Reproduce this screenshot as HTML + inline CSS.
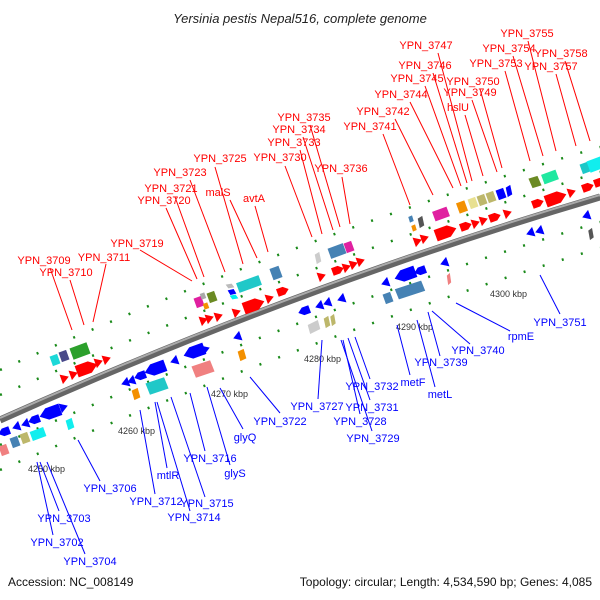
<!DOCTYPE html>
<html><head><meta charset="utf-8"><style>
html,body{margin:0;padding:0;background:#fff}
svg{display:block}
text{font-family:"Liberation Sans",sans-serif}
.r{fill:#f00;font-size:11px}
.b{fill:#00f;font-size:11px}
.k{fill:#333;font-size:9px}
.lr{stroke:#f00;stroke-width:1}
.lb{stroke:#00f;stroke-width:1}
</style></head><body>
<svg width="600" height="600" viewBox="0 0 600 600" xmlns="http://www.w3.org/2000/svg">
<defs>
<linearGradient id="gb" x1="0" y1="0" x2="0" y2="1"><stop offset="0" stop-color="#bbb"/><stop offset="0.5" stop-color="#888"/><stop offset="1" stop-color="#555"/></linearGradient>
<polygon id="ar" points="-6,-4 1,-4 6,0 1,4 -6,4"/>
<polygon id="aR" points="-11,-6 3,-6 11,0 3,6 -11,6"/>
<polygon id="al" points="6,-4 -1,-4 -6,0 -1,4 6,4"/>
<polygon id="aL" points="11,-6 -3,-6 -11,0 -3,6 11,6"/>
<polygon id="tr" points="-4,-5 4,0 -4,5"/>
<polygon id="tl" points="4,-5 -4,0 4,5"/>
<rect id="bs" x="-4" y="-5" width="8" height="10"/>
<rect id="bm" x="-9" y="-6" width="18" height="12"/>
<rect id="bw" x="-14" y="-6" width="28" height="12"/>
</defs>
<text x="300" y="23" text-anchor="middle" font-size="13" font-style="italic" fill="#222">Yersinia pestis Nepal516, complete genome</text>

<!-- dotted green tracks -->
<g stroke="#1a8a1a" stroke-width="2.5" fill="none" stroke-dasharray="2 18">
<path d="M0,370 Q300,235 600,147"/>
<path d="M0,395 Q300,265 600,172"/>
<path d="M0,445 Q300,312 600,222"/>
<path d="M0,470 Q300,340 600,248"/>
</g>
<!-- backbone -->
<path d="M0,420 Q300,285.5 600,197" stroke="#666" stroke-width="7" fill="none"/>
<path d="M0,418 Q300,283.5 600,195" stroke="#aaa" stroke-width="2" fill="none"/>

<!-- forward genes -->
<g fill="#f00">
<use href="#tr" transform="translate(65,378) rotate(-20)"/>
<use href="#tr" transform="translate(74,374) rotate(-20)"/>
<use href="#aR" transform="translate(87,368) rotate(-20)"/>
<use href="#tr" transform="translate(99,362) rotate(-20)"/>
<use href="#tr" transform="translate(107,359) rotate(-20)"/>
<use href="#tr" transform="translate(204,320) rotate(-20)"/>
<use href="#tr" transform="translate(210,318) rotate(-20)"/>
<use href="#tr" transform="translate(219,316) rotate(-20)"/>
<use href="#tr" transform="translate(237,312) rotate(-20)"/>
<use href="#aR" transform="translate(254,305) rotate(-20)"/>
<use href="#tr" transform="translate(270,298) rotate(-20)"/>
<use href="#ar" transform="translate(283,291) rotate(-20)"/>
<use href="#tr" transform="translate(322,276) rotate(-20)"/>
<use href="#ar" transform="translate(338,270) rotate(-20)"/>
<use href="#tr" transform="translate(347,267) rotate(-20)"/>
<use href="#tr" transform="translate(354,264) rotate(-20)"/>
<use href="#tr" transform="translate(361,261) rotate(-20)"/>
<use href="#tr" transform="translate(418,241) rotate(-20)"/>
<use href="#tr" transform="translate(425,238) rotate(-20)"/>
<use href="#aR" transform="translate(446,232) rotate(-20)"/>
<use href="#ar" transform="translate(466,226) rotate(-20)"/>
<use href="#tr" transform="translate(476,223) rotate(-20)"/>
<use href="#tr" transform="translate(484,220) rotate(-20)"/>
<use href="#ar" transform="translate(495,217) rotate(-20)"/>
<use href="#tr" transform="translate(508,213) rotate(-20)"/>
<use href="#ar" transform="translate(538,203) rotate(-20)"/>
<use href="#aR" transform="translate(556,198) rotate(-20)"/>
<use href="#tr" transform="translate(572,192) rotate(-20)"/>
<use href="#ar" transform="translate(588,187) rotate(-20)"/>
<use href="#ar" transform="translate(600,182) rotate(-20)"/>
</g>
<!-- forward boxes -->
<use href="#bs" fill="#1cd8d8" transform="translate(55,360) rotate(-20)"/>
<use href="#bs" fill="#4a4a8a" transform="translate(64,356) rotate(-20)"/>
<use href="#bm" fill="#2ca02c" transform="translate(80,351) rotate(-20)"/>
<use href="#bs" fill="#e020a0" transform="translate(199,302) rotate(-20)"/>
<use href="#bs" fill="#f39000" transform="translate(206,306) scale(.6) rotate(-20)"/>
<use href="#bs" fill="#aaa" transform="translate(203,296) scale(.6) rotate(-20)"/>
<use href="#bs" fill="#6b8a23" transform="translate(212,297) rotate(-20)"/>
<use href="#bs" fill="#00f" transform="translate(232,292) scale(.8,.5) rotate(-20)"/>
<use href="#bs" fill="#0ee" transform="translate(234,297) scale(.8,.4) rotate(-20)"/>
<use href="#bs" fill="#bbb" transform="translate(230,286) scale(.8,.4) rotate(-20)"/>
<use href="#bw" fill="#20c8c8" transform="translate(249,284) scale(.85) rotate(-20)"/>
<use href="#bs" fill="#4682b4" transform="translate(276,273) scale(1.2) rotate(-20)"/>
<use href="#bs" fill="#ccc" transform="translate(318,258) scale(.6,1) rotate(-20)"/>
<use href="#bm" fill="#4682b4" transform="translate(337,251) scale(.9) rotate(-20)"/>
<use href="#bs" fill="#e020a0" transform="translate(349,247) rotate(-20)"/>
<use href="#bs" fill="#4682b4" transform="translate(411,219) scale(.5,.6) rotate(-20)"/>
<use href="#bs" fill="#f39000" transform="translate(414,228) scale(.5,.6) rotate(-20)"/>
<use href="#bs" fill="#555" transform="translate(421,222) scale(.6,1) rotate(-20)"/>
<use href="#bm" fill="#e020a0" transform="translate(441,214) scale(.85) rotate(-20)"/>
<use href="#bs" fill="#f39000" transform="translate(462,207) scale(1.1) rotate(-20)"/>
<use href="#bs" fill="#e8e090" transform="translate(473,203) rotate(-20)"/>
<use href="#bs" fill="#bdb76b" transform="translate(482,200) rotate(-20)"/>
<use href="#bs" fill="#bdb76b" transform="translate(491,197) rotate(-20)"/>
<use href="#bs" fill="#00f" transform="translate(501,194) rotate(-20)"/>
<use href="#bs" fill="#00f" transform="translate(509,191) scale(.6,1) rotate(-20)"/>
<use href="#bs" fill="#6b8a23" transform="translate(535,182) scale(1.2,1) rotate(-20)"/>
<use href="#bm" fill="#20e8a0" transform="translate(550,177) scale(.85) rotate(-20)"/>
<use href="#bs" fill="#1cc8c8" transform="translate(585,168) rotate(-20)"/>
<use href="#bm" fill="#1ee" transform="translate(597,164) rotate(-20)"/>

<!-- reverse genes -->
<g fill="#00f">
<use href="#al" transform="translate(4,432) rotate(-20)"/>
<use href="#tl" transform="translate(16,427) rotate(-20)"/>
<use href="#tl" transform="translate(25,424) rotate(-20)"/>
<use href="#al" transform="translate(34,420) rotate(-20)"/>
<use href="#aL" transform="translate(50,413) rotate(-20)"/>
<use href="#tr" transform="translate(64,407) rotate(-20)"/>
<use href="#tl" transform="translate(125,383) rotate(-20)"/>
<use href="#tl" transform="translate(131,381) rotate(-20)"/>
<use href="#al" transform="translate(140,376) rotate(-20)"/>
<use href="#aL" transform="translate(155,369) rotate(-20)"/>
<use href="#tl" transform="translate(174,361) rotate(-20)"/>
<use href="#aL" transform="translate(194,352) rotate(-20)"/>
<use href="#tr" transform="translate(206,349) rotate(-20)"/>
<use href="#tl" transform="translate(237,337) rotate(-20)"/>
<use href="#al" transform="translate(304,311) rotate(-20)"/>
<use href="#tl" transform="translate(319,306) rotate(-20)"/>
<use href="#tl" transform="translate(327,303) rotate(-20)"/>
<use href="#tl" transform="translate(341,299) rotate(-20)"/>
<use href="#tl" transform="translate(385,283) rotate(-20)"/>
<use href="#aL" transform="translate(405,275) rotate(-20)"/>
<use href="#al" transform="translate(420,271) rotate(-20)"/>
<use href="#tl" transform="translate(444,263) rotate(-20)"/>
<use href="#tl" transform="translate(530,233) rotate(-20)"/>
<use href="#tl" transform="translate(539,231) rotate(-20)"/>
<use href="#tl" transform="translate(586,216) rotate(-20)"/>
</g>
<use href="#bs" fill="#1ee" transform="translate(70,424) scale(.8,1) rotate(-20)"/>
<use href="#bs" fill="#f08080" transform="translate(4,450) rotate(-20)"/>
<use href="#bs" fill="#4682b4" transform="translate(15,442) rotate(-20)"/>
<use href="#bs" fill="#bdb76b" transform="translate(25,438) rotate(-20)"/>
<use href="#bm" fill="#1ee" transform="translate(38,434) scale(.8) rotate(-20)"/>
<use href="#bs" fill="#f39000" transform="translate(136,394) scale(.8,1) rotate(-20)"/>
<use href="#bm" fill="#20c8c8" transform="translate(157,386) scale(1.1,1) rotate(-20)"/>
<use href="#bm" fill="#f08080" transform="translate(203,369) scale(1.1,1) rotate(-20)"/>
<use href="#bs" fill="#f39000" transform="translate(242,355) scale(.8,1) rotate(-20)"/>
<use href="#bm" fill="#ccc" transform="translate(314,327) scale(.6,.8) rotate(-20)"/>
<use href="#bs" fill="#bdb76b" transform="translate(327,322) scale(.6,1) rotate(-20)"/>
<use href="#bs" fill="#bdb76b" transform="translate(333,320) scale(.5,1) rotate(-20)"/>
<use href="#bs" fill="#4682b4" transform="translate(388,298) rotate(-20)"/>
<use href="#bw" fill="#4682b4" transform="translate(410,290) scale(1,.9) rotate(-20)"/>
<use href="#bs" fill="#f08080" transform="translate(449,279) scale(.4,1) rotate(-20)"/>
<use href="#bs" fill="#555" transform="translate(591,234) scale(.5,1) rotate(-20)"/>

<!-- kbp labels -->
<text class="k" x="28" y="472">4250 kbp</text>
<text class="k" x="118" y="434">4260 kbp</text>
<text class="k" x="211" y="397">4270 kbp</text>
<text class="k" x="304" y="362">4280 kbp</text>
<text class="k" x="396" y="330">4290 kbp</text>
<text class="k" x="490" y="297">4300 kbp</text>

<!-- red labels -->
<g class="lr">
<line x1="50" y1="268" x2="72" y2="330"/><line x1="70" y1="280" x2="84" y2="325"/><line x1="106" y1="264" x2="93" y2="322"/>
<line x1="140" y1="250" x2="192" y2="281"/><line x1="166" y1="208" x2="197" y2="279"/><line x1="175" y1="197" x2="204" y2="277"/>
<line x1="190" y1="180" x2="225" y2="272"/><line x1="215" y1="167" x2="243" y2="264"/><line x1="230" y1="200" x2="257" y2="258"/>
<line x1="255" y1="206" x2="268" y2="252"/><line x1="285" y1="166" x2="312" y2="237"/><line x1="300" y1="150" x2="322" y2="234"/>
<line x1="303" y1="137" x2="333" y2="230"/><line x1="310" y1="125" x2="340" y2="227"/><line x1="342" y1="177" x2="350" y2="224"/>
<line x1="383" y1="134" x2="410" y2="205"/><line x1="395" y1="119" x2="433" y2="195"/><line x1="410" y1="102" x2="453" y2="188"/>
<line x1="425" y1="86" x2="461" y2="186"/><line x1="433" y1="73" x2="467" y2="183"/><line x1="438" y1="53" x2="472" y2="181"/>
<line x1="465" y1="115" x2="483" y2="176"/><line x1="472" y1="100" x2="497" y2="172"/><line x1="480" y1="89" x2="502" y2="168"/>
<line x1="505" y1="71" x2="530" y2="161"/><line x1="513" y1="56" x2="543" y2="156"/><line x1="528" y1="41" x2="556" y2="151"/>
<line x1="556" y1="74" x2="576" y2="146"/><line x1="565" y1="61" x2="590" y2="141"/>
</g>
<g class="r" text-anchor="middle">
<text x="44" y="264">YPN_3709</text><text x="66" y="276">YPN_3710</text><text x="104" y="261">YPN_3711</text>
<text x="137" y="247">YPN_3719</text><text x="164" y="204">YPN_3720</text><text x="171" y="192">YPN_3721</text>
<text x="180" y="176">YPN_3723</text><text x="220" y="162">YPN_3725</text><text x="218" y="196">malS</text>
<text x="254" y="202">avtA</text><text x="280" y="161">YPN_3730</text><text x="294" y="146">YPN_3733</text>
<text x="299" y="133">YPN_3734</text><text x="304" y="121">YPN_3735</text><text x="341" y="172">YPN_3736</text>
<text x="370" y="130">YPN_3741</text><text x="383" y="115">YPN_3742</text><text x="401" y="98">YPN_3744</text>
<text x="417" y="82">YPN_3745</text><text x="425" y="69">YPN_3746</text><text x="426" y="49">YPN_3747</text>
<text x="458" y="111">hslU</text><text x="470" y="96">YPN_3749</text><text x="473" y="85">YPN_3750</text>
<text x="496" y="67">YPN_3753</text><text x="509" y="52">YPN_3754</text><text x="527" y="37">YPN_3755</text>
<text x="551" y="70">YPN_3757</text><text x="561" y="57">YPN_3758</text>
</g>

<!-- blue labels -->
<g class="lb">
<line x1="59" y1="511" x2="40" y2="462"/><line x1="53" y1="535" x2="37" y2="462"/><line x1="85" y1="554" x2="47" y2="462"/>
<line x1="100" y1="481" x2="78" y2="440"/><line x1="155" y1="494" x2="140" y2="410"/><line x1="167" y1="468" x2="155" y2="402"/>
<line x1="190" y1="511" x2="157" y2="402"/><line x1="205" y1="497" x2="171" y2="397"/><line x1="205" y1="451" x2="190" y2="393"/>
<line x1="230" y1="465" x2="207" y2="387"/><line x1="243" y1="429" x2="220" y2="388"/><line x1="280" y1="413" x2="250" y2="377"/>
<line x1="318" y1="399" x2="322" y2="340"/><line x1="370" y1="379" x2="355" y2="337"/><line x1="370" y1="400" x2="348" y2="338"/>
<line x1="360" y1="414" x2="343" y2="340"/><line x1="372" y1="431" x2="341" y2="340"/>
<line x1="410" y1="375" x2="397" y2="325"/><line x1="435" y1="387" x2="417" y2="320"/><line x1="440" y1="356" x2="428" y2="312"/>
<line x1="470" y1="344" x2="432" y2="311"/><line x1="510" y1="331" x2="456" y2="303"/><line x1="560" y1="314" x2="540" y2="275"/>
</g>
<g class="b" text-anchor="middle">
<text x="64" y="522">YPN_3703</text><text x="57" y="546">YPN_3702</text><text x="90" y="565">YPN_3704</text>
<text x="110" y="492">YPN_3706</text><text x="156" y="505">YPN_3712</text><text x="168" y="479">mtlR</text>
<text x="194" y="521">YPN_3714</text><text x="207" y="507">YPN_3715</text><text x="210" y="462">YPN_3716</text>
<text x="235" y="477">glyS</text><text x="245" y="441">glyQ</text><text x="280" y="425">YPN_3722</text>
<text x="317" y="410">YPN_3727</text><text x="372" y="390">YPN_3732</text><text x="372" y="411">YPN_3731</text>
<text x="360" y="425">YPN_3728</text><text x="373" y="442">YPN_3729</text>
<text x="413" y="386">metF</text><text x="440" y="398">metL</text><text x="441" y="366">YPN_3739</text>
<text x="478" y="354">YPN_3740</text><text x="521" y="340">rpmE</text><text x="560" y="326">YPN_3751</text>
</g>

<text x="8" y="586" font-size="12" fill="#111">Accession: NC_008149</text>
<text x="592" y="586" font-size="12" fill="#111" text-anchor="end">Topology: circular; Length: 4,534,590 bp; Genes: 4,085</text>
</svg>
</body></html>
